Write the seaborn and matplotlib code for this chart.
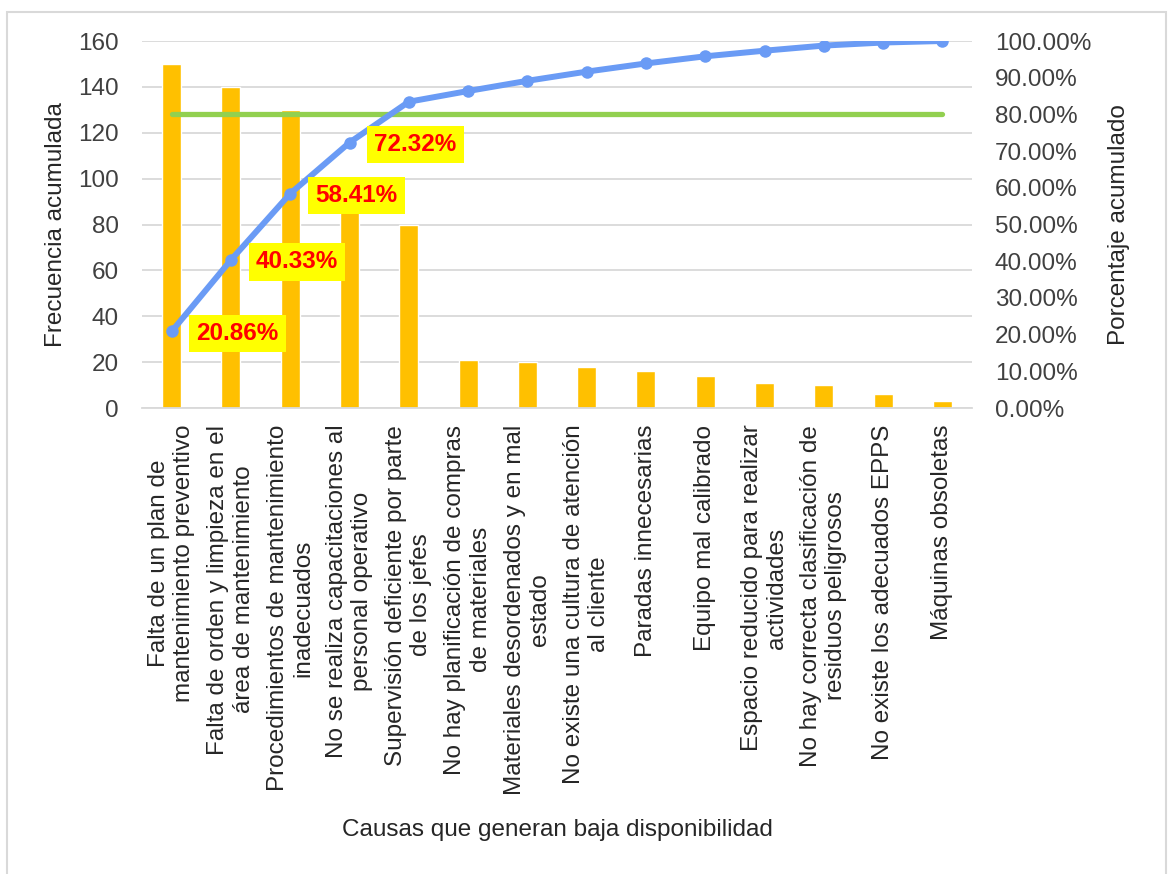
import numpy as np
import pandas as pd
import matplotlib
matplotlib.use("Agg")
import matplotlib.pyplot as plt
import seaborn as sns
from matplotlib.ticker import MultipleLocator, PercentFormatter
from matplotlib.patches import Rectangle

# Datos del diagrama de Pareto
causas = [
    "Falta de un plan de\nmantenimiento preventivo",
    "Falta de orden y limpieza en el\nárea de mantenimiento",
    "Procedimientos de mantenimiento\ninadecuados",
    "No se realiza capacitaciones al\npersonal operativo",
    "Supervisión deficiente por parte\nde los jefes",
    "No hay planificación de compras\nde materiales",
    "Materiales desordenados y en mal\nestado",
    "No existe una cultura de atención\nal cliente",
    "Paradas innecesarias",
    "Equipo mal calibrado",
    "Espacio reducido para realizar\nactividades",
    "No hay correcta clasificación de\nresiduos peligrosos",
    "No existe los adecuados EPPS",
    "Máquinas obsoletas",
]
frecuencia = [150, 140, 130, 100, 80, 21, 20, 18, 16, 14, 11, 10, 6, 3]
meta = 0.80
n_etiquetas = 4

sns.set_theme(style="white")
plt.rcParams["font.family"] = ["Liberation Sans", "DejaVu Sans"]

df = pd.DataFrame({"causa": causas, "frecuencia": frecuencia})
df["pos"] = np.arange(len(df))
df["acumulado"] = df["frecuencia"].cumsum() / df["frecuencia"].sum()

W, H = 1168, 874
fig = plt.figure(figsize=(W / 100, H / 100), dpi=100)
ax = fig.add_axes([142 / W, 1 - 408 / H, (972 - 142) / W, (408 - 41) / H])

# Barras
sns.barplot(data=df, x="causa", y="frecuencia", color="#FFC000",
            saturation=1, width=0.32, ax=ax, zorder=2)
ax.set_ylim(0, 160)
ax.set_xlim(-0.5, len(df) - 0.5)
ax.yaxis.set_major_locator(MultipleLocator(20))
ax.grid(axis="y", color="#D9D9D9", linewidth=1.3, zorder=0)
ax.set_axisbelow(True)
for s in ["top", "left", "right"]:
    ax.spines[s].set_visible(False)
ax.spines["bottom"].set_color("#D9D9D9")
ax.spines["bottom"].set_linewidth(1.3)

ax.set_xticks(df["pos"])
ax.set_xticklabels(df["causa"], rotation=90, ha="center", va="top",
                   multialignment="center")
ax.tick_params(axis="x", length=0, pad=12, labelsize=17.5, labelcolor="#262626")
ax.tick_params(axis="y", length=0, pad=16.5, labelsize=17.5, labelcolor="#404040")
ax.set_ylabel("Frecuencia acumulada", fontsize=17.5, color="#262626", labelpad=8)
ax.set_xlabel("Causas que generan baja disponibilidad", fontsize=17.5,
              color="#262626", va="center")
ax.xaxis.set_label_coords(0.5, -(830 - 408) / 367)

# Porcentaje acumulado
ax2 = ax.twinx()
ax2.plot([df["pos"].iloc[0], df["pos"].iloc[-1]], [meta, meta],
         color="#92D050", linewidth=3.8, solid_capstyle="round", zorder=2)
sns.lineplot(data=df, x="pos", y="acumulado", ax=ax2, color="#6A9BF5",
             linewidth=4.3, marker="o", markersize=9, markeredgewidth=0, zorder=3)
ax2.set_ylim(0, 1)
ax2.set_xlim(-0.5, len(df) - 0.5)
ax2.yaxis.set_major_locator(MultipleLocator(0.1))
ax2.yaxis.set_major_formatter(PercentFormatter(1.0, decimals=2))
ax2.tick_params(axis="y", length=0, pad=16.5, labelsize=17.5, labelcolor="#404040")
for s in ax2.spines.values():
    s.set_visible(False)
ax2.set_ylabel("Porcentaje acumulado", fontsize=17.5, color="#262626", labelpad=12)

for i in range(n_etiquetas):
    v = df["acumulado"].iloc[i]
    ax2.annotate(f"{v * 100:.2f}%", (df["pos"].iloc[i], v), xytext=(66, -2),
                 textcoords="offset pixels", ha="center", va="center",
                 color="#FF0000", fontweight="bold", fontsize=17.5, zorder=10,
                 bbox=dict(boxstyle="square,pad=0.3", fc="#FFFF00", ec="none"))

# Marco del gráfico
fig.patches.append(Rectangle((7 / W, -0.01), (1166 - 7) / W, (H - 12) / H + 0.01,
                             transform=fig.transFigure, fill=False,
                             edgecolor="#D9D9D9", linewidth=1.5))

fig.savefig("out.png", dpi=100)
